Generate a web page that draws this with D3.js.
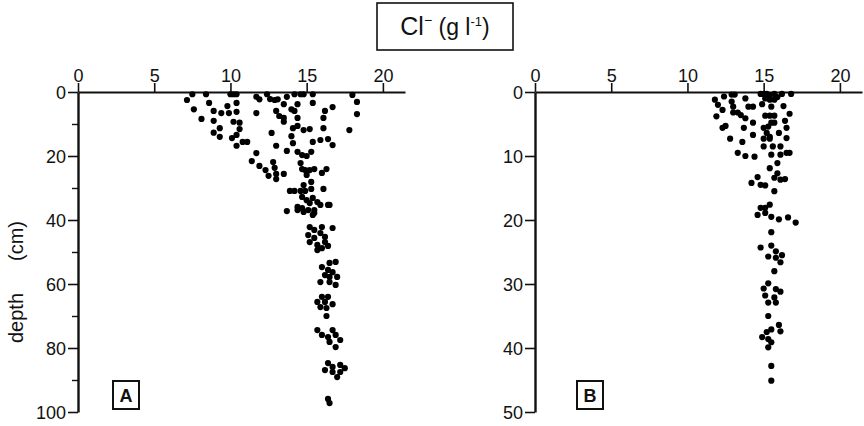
<!DOCTYPE html>
<html>
<head>
<meta charset="utf-8">
<script src="https://cdn.jsdelivr.net/npm/d3@7"></script>
<style>
  body { margin: 0; background: #fff; }
  svg { display: block; }
  .axis text { font-family: 'Liberation Sans', Arial, sans-serif; font-size: 18px; fill: #111; }
  .axis path, .axis line { stroke: #111; }
</style>
</head>
<body>
<script>
// chloride (g/l), depth (cm)
const xTicks = [0, 5, 10, 15, 20]
const yTicksA = [0, 20, 40, 60, 80, 100]
const yMinorA = [10, 30, 50, 70, 90]
const yTicksB = [0, 10, 20, 30, 40, 50]

const pointsA = [
  [7.15,2.5],[7.5,0.7],[7.6,5.4],[8.1,8.4],[8.4,0.7],[8.6,3.4],[8.9,5.9],[8.9,9],[8.9,12.7],[9.3,11.3],
  [9.3,14],[9.4,6.6],[9.8,4.4],[9.9,6.6],[10,0.7],[10.2,0.7],[10.4,0.7],[10.4,3.4],[10.4,6.2],[10.2,9.3],
  [10.6,9.6],[10.6,11.6],[10.4,13.4],[10.1,14.4],[10.4,16.8],[10.8,15.6],[11.1,15.6],[11.7,1.5],[11.9,2.3],[11.7,6.6],
  [12.4,0.7],[12.6,2.2],[12.9,2.5],[13.1,2.3],[13,5.9],[13.2,7.5],[13.5,8.1],[13.5,9.3],[13.5,3.8],[13.7,1.5],
  [14,5.4],[14.2,0.7],[14.4,3.8],[14.2,5.9],[14.4,8.1],[14.4,10.6],[14.1,11.3],[14,13.8],[14.1,16],[13.7,18.4],
  [14.6,0.7],[14.8,0.7],[14.8,11.9],[15.2,11.6],[15.4,0.7],[15.4,3.4],[15.4,15.6],[15.9,15],[16.2,5.9],[16.1,8.1],
  [16.1,11.3],[16.7,4.7],[16.4,14.7],[16.7,16.6],[18,0.9],[18.3,3.1],[18.3,6.9],[17.8,11.9],[12.7,12.8],[13,16.8],
  [11.7,19.1],[11.4,21.6],[11.9,23.1],[12.3,24.4],[12.5,26.2],[12.8,21.9],[12.9,23.7],[13,25.6],[13,27.2],[13.5,25.6],
  [14.4,18.7],[14.7,19.7],[15,20],[15.3,18.7],[14.6,22.2],[14.7,24.1],[14.9,24.4],[15,25.9],[15.2,24.4],[15.5,24.1],
  [16,25.3],[16.3,24.1],[14.8,29.1],[15.3,28.1],[13.9,30.9],[14.2,30.9],[14.6,30.9],[14.9,30.9],[15.3,30.3],[16.1,30.3],
  [14.7,32.8],[15,33.8],[15.4,33.1],[15.7,34.4],[16.4,35.3],[13.7,37.2],[14.4,36.9],[14.7,36.3],[15.1,36.9],[15.5,36.9],
  [14.4,35.9],[14.8,37.5],[15.2,34.7],[15.5,37.8],[15.9,35.3],[16.5,35.3],[15.4,38.4],
  [15.2,42.2],[15.5,43.1],[16,42.2],[16.7,42.5],[15.1,44.7],[15.5,45.6],[15.9,44.1],[16.2,45.3],[15.2,46.9],[15.7,47.8],
  [16.2,46.9],[16.4,48.1],[15.7,49.4],[16,48.8],[16.9,53.1],[16.5,53.4],[16,54.7],[16.4,55.6],[16.7,56.3],[16.2,57.2],
  [16.5,57.8],[17,57.8],[15.9,59.4],[16.5,59.4],[16.9,60.3],[16,64],[16.4,64],[15.7,65.6],[16.2,65.6],[16.7,66.3],
  [15.9,67.2],[16.3,67.5],[16.3,70],[15.7,74.4],[16,75.9],[16.7,74.4],[16.4,76.6],[16.9,75.9],[17.2,77.5],[16.5,78.1],
  [16.9,79.7],[16.4,84.7],[16.7,85.9],[17.2,85.3],[17.5,86.3],[16.2,86.9],[16.7,87.5],[17.2,87.5],[17,89.1],[16.4,95.9],
  [16.5,97.2]
]

const pointsB = [
  [11.8,1.2],[12.4,0.7],[12.0,2.0],[12.3,2.8],[11.9,3.8],[12.9,0.4],[13.1,0.4],[12.9,1.5],[13.0,2.3],[13.0,3.2],
  [13.3,3.2],[13.5,3.6],[13.8,1],[14.0,2.3],[14.3,2.3],[13.8,4.1],[12.5,5.3],[12.3,5.6],[13.7,5.6],[14.3,4.8],
  [14.3,6.7],[12.8,7.3],[13.6,7.8],[13.3,9.5],[13.8,10],[14.4,10.1],[14.8,0.3],[15.0,0.3],[15.2,0.3],[15.4,0.5],
  [15.7,0.3],[15.9,0.8],[16.2,0.3],[16.8,0.3],[15.1,1],[15.4,1.2],[15.7,1.2],[14.9,1.9],[15.5,2.3],[16.3,2.2],
  [15.1,3.7],[15.4,3.7],[15.7,3.7],[16.7,3.4],[15.5,4.8],[15.7,4.8],[16.4,4.5],[15.0,5.6],[15.3,5.4],[16.5,5.6],
  [16.0,6.4],[15.2,6.4],[15.4,7],[15.0,7.3],[15.4,7.3],[16.5,7.2],[15.0,8.5],[15.6,8.5],[16.1,8.5],[16.5,9.5],
  [15.5,9.8],[16.1,9.8],[16.7,9.5],[15.9,11.1],[15.4,11.9],[15.9,12.7],[16.1,13.7],[16.4,13.6],[15.7,13.4],[14.6,13.3],
  [14.2,14.2],[14.8,14.5],[15.1,14.6],[15.7,15.5],[15.4,17.6],[15.1,18.1],[14.8,18.1],[14.6,19.2],[15.1,18.9],[15.5,19.5],
  [16.0,19.9],[16.6,19.6],[17.1,20.4],[15.5,21.9],[14.8,24.3],[15.5,24],[15.8,24.9],[15.3,25.7],[16.2,25.5],[15.8,25.9],
  [16.1,26.6],[15.7,28],[15.3,29.9],[15.0,30.7],[15.8,30.8],[16.1,31.2],[15.1,31.8],[15.7,32.1],[15.3,32.9],[15.8,32.9],
  [15.3,35],[16.0,36.4],[15.5,37.1],[16.1,37.4],[15.2,37.5],[14.9,38.3],[15.3,38.6],[15.5,39.1],[15.3,39.9],[15.5,42.8],
  [15.5,45.1]
]

const width = 864
const height = 426
const font = "'Liberation Sans', Arial, sans-serif"

const svg = d3.select('body').append('svg')
  .attr('width', width)
  .attr('height', height)

// title box
const title = svg.append('g')
title.append('rect')
  .attr('x', 377).attr('y', 3)
  .attr('width', 136).attr('height', 47)
  .attr('fill', 'none')
  .attr('stroke', '#111')
  .attr('stroke-width', 1.6)

const tt = title.append('text')
  .attr('x', 445).attr('y', 35)
  .attr('text-anchor', 'middle')
  .style('font-family', font)
  .style('font-size', '25px')
  .attr('fill', '#111')
tt.append('tspan').text('Cl')
tt.append('tspan').text('\u2212').style('font-size', '14px').attr('dy', -10)
tt.append('tspan').text(' (g l').style('font-size', '23px').attr('dy', 10)
tt.append('tspan').text('-1').style('font-size', '13px').attr('dy', -9)
tt.append('tspan').text(')').style('font-size', '23px').attr('dy', 9)

function drawPanel(points, x0, yMax, yTicks, yMinor, letter, boxX) {
  const x = d3.scaleLinear().domain([0, 21.45]).range([x0, x0 + 327])
  const y = d3.scaleLinear().domain([0, yMax]).range([92, 412])

  const g = svg.append('g')

  g.append('g')
    .attr('class', 'axis')
    .attr('transform', `translate(0, ${y(0)})`)
    .call(d3.axisTop(x).tickValues(xTicks).tickSize(9).tickSizeOuter(0).tickPadding(1).tickFormat(d3.format('d')))
    .call(a => a.select('.domain').attr('stroke-width', 2.2))
    .call(a => a.selectAll('.tick line').attr('stroke-width', 1.6))

  g.append('g')
    .attr('class', 'axis')
    .attr('transform', `translate(${x(0)}, 0)`)
    .call(d3.axisLeft(y).tickValues(yTicks).tickSize(10).tickSizeOuter(0).tickPadding(2).tickFormat(d3.format('d')))
    .call(a => a.select('.domain').attr('stroke-width', 2.4))
    .call(a => a.selectAll('.tick line').attr('stroke-width', 1.6))
    .call(a => a.selectAll('.tick text').attr('dy', '0.36em'))

  if (yMinor.length) {
    g.append('g')
      .attr('class', 'axis')
      .attr('transform', `translate(${x(0)}, 0)`)
      .call(d3.axisLeft(y).tickValues(yMinor).tickSize(6).tickFormat(''))
      .call(a => a.select('.domain').remove())
      .call(a => a.selectAll('.tick line').attr('stroke-width', 1.4))
  }

  g.append('g')
    .selectAll('circle')
    .data(points)
    .enter()
    .append('circle')
    .attr('cx', d => x(d[0]))
    .attr('cy', d => y(d[1]))
    .attr('r', 3.1)
    .attr('fill', '#000')

  // panel letter
  g.append('rect')
    .attr('x', boxX).attr('y', 381)
    .attr('width', 26).attr('height', 28)
    .attr('fill', 'none')
    .attr('stroke', '#111')
    .attr('stroke-width', 2)
  g.append('text')
    .attr('x', boxX + 13).attr('y', 402)
    .attr('text-anchor', 'middle')
    .style('font-family', font)
    .style('font-size', '18px')
    .style('font-weight', 'bold')
    .attr('fill', '#111')
    .text(letter)
}

drawPanel(pointsA, 78, 100, yTicksA, yMinorA, 'A', 113)
drawPanel(pointsB, 535, 50, yTicksB, [], 'B', 577)

// y axis title
svg.append('text')
  .attr('transform', 'translate(23, 318) rotate(-90)')
  .attr('text-anchor', 'middle')
  .style('font-family', font)
  .style('font-size', '20px')
  .attr('fill', '#111')
  .text('depth')
svg.append('text')
  .attr('transform', 'translate(23, 241) rotate(-90)')
  .attr('text-anchor', 'middle')
  .style('font-family', font)
  .style('font-size', '20px')
  .attr('fill', '#111')
  .text('(cm)')
</script>
</body>
</html>
